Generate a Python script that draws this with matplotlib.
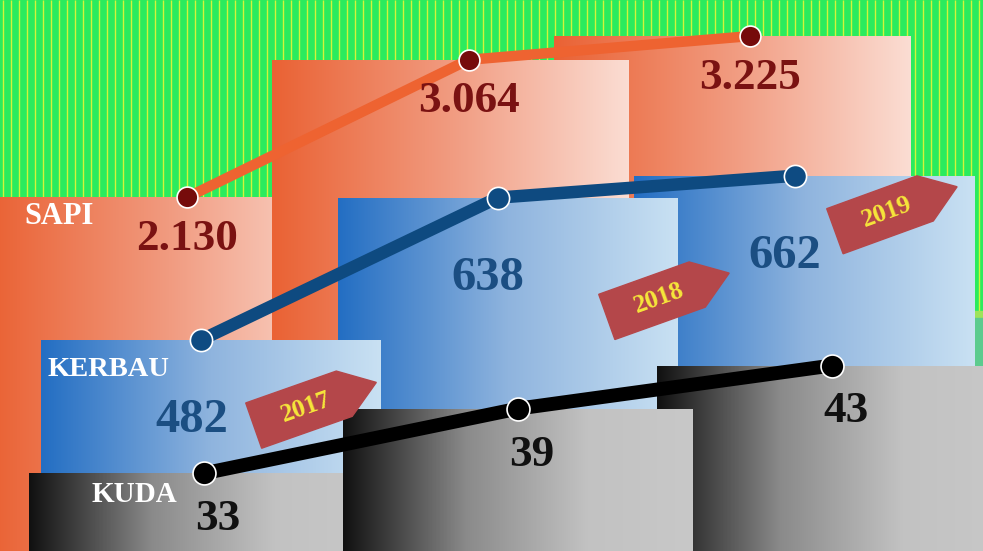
import numpy as np
import matplotlib
matplotlib.use('Agg')
import matplotlib.pyplot as plt
from matplotlib.colors import LinearSegmentedColormap
from matplotlib.patches import Polygon, Rectangle

plt.rcParams['font.family'] = ['Liberation Serif', 'DejaVu Serif']

# data
years = ['2017', '2018', '2019']
sapi = [2130, 3064, 3225]
kerbau = [482, 638, 662]
kuda = [33, 39, 43]
series_names = ['SAPI', 'KERBAU', 'KUDA']

W, H = 983, 551
fig = plt.figure(figsize=(W / 100, H / 100), dpi=100)

# striped green background
bg = fig.add_axes([0, 0, 1, 1])
bg.set_xlim(0, W)
bg.set_ylim(H, 0)
bg.axis('off')
bg.add_patch(Rectangle((0, 0), W, 320, color='#2BEB5E', zorder=0))
bg.vlines(np.arange(3, W, 8), 0, 314, color='#D2F43A', lw=1.0, zorder=1)
bg.add_patch(Rectangle((0, 311), W, 8, color='#9EE35A', zorder=2))
bg.add_patch(Rectangle((0, 318), W, H - 318, color='#5CCB8E', zorder=2))

grad = np.linspace(0, 1, 256).reshape(1, -1)


def fmt_sapi(v):
    return f'{v:,}'.replace(',', '.')


def draw_series(values, x0, dx, ylim, bar_w, bar_off, bar_z, cmap,
                line_c, line_w, mk_c, mk_s, txt_c, txt_size, txt_off, fmt=str):
    ax = fig.add_axes([0, 0, 1, 1])
    ax.axis('off')
    x = np.arange(len(values))
    vals = np.array(values, dtype=float)
    bars = ax.bar(x + bar_off / dx, vals - ylim[0], bottom=ylim[0], width=bar_w / dx,
                  color='none', edgecolor='none')
    for b, z in zip(bars, bar_z):
        bx, by = b.get_x(), b.get_y()
        im = ax.imshow(grad, cmap=cmap, aspect='auto', zorder=z,
                       extent=(bx, bx + b.get_width(), by, by + b.get_height()))
        im.set_clip_path(b)
    ax.plot(x, vals, color=line_c, lw=line_w, solid_capstyle='round', zorder=5)
    ax.plot(x, vals, 'o', ms=mk_s, color=mk_c, mec='white', mew=1.2, zorder=6)
    for xi, v in zip(x, values):
        ax.annotate(fmt(v), (xi, v), xytext=txt_off, textcoords='offset points',
                    ha='center', va='center', fontsize=txt_size, fontweight='bold',
                    color=txt_c, zorder=7)
    ax.set_xlim(-x0 / dx, (W - x0) / dx)
    ax.set_ylim(ylim)
    return ax


cm_sapi = LinearSegmentedColormap.from_list('sapi', ['#EA6234', '#F19B80', '#FBDDD3'])
cm_kerbau = LinearSegmentedColormap.from_list('kerbau', ['#236EC3', '#8FB4DE', '#C9E1F3'])
cm_kuda = LinearSegmentedColormap.from_list(
    'kuda', [(0, '#111111'), (0.35, '#8A8A8A'), (0.7, '#C2C2C2'), (1, '#C8C8C8')])

draw_series(sapi, 187, 281.5, (-270, 3470), 357, -18, [1, 2, 1], cm_sapi,
            '#EE6331', 7.5, '#760B0B', 15, '#7A1212', 32.5, (0, -30), fmt=fmt_sapi)
draw_series(kerbau, 201.5, 296.5, (250, 855), 340, 10, [3, 2, 1], cm_kerbau,
            '#0E4A80', 9, '#0E4B82', 16, '#1B4E82', 35, (-7, -58))
draw_series(kuda, 203.7, 314, (25.8, 76.9), 350, 0, [1, 2, 1], cm_kuda,
            '#000000', 10, '#000000', 16.5, '#111111', 32.5, (10, -33))

# series names
name_pos = [(59, 216, 22), (108, 370, 20.5), (134, 494, 21)]
for name, (px, py, fs) in zip(series_names, name_pos):
    fig.text(px / W, 1 - py / H, name, ha='center', va='center', color='white',
             fontsize=fs, fontweight='bold')

# year tags
ov = fig.add_axes([0, 0, 1, 1])
ov.set_xlim(0, W)
ov.set_ylim(H, 0)
ov.axis('off')
tag_shape = np.array([[-65, -24], [31, -24], [65, 0], [31, 24], [-65, 24]])
tag_pos = [(315, 404, 19.4), (668, 295, 19.7), (896, 209, 20.0)]
for yr, (cx, cy, ang) in zip(years, tag_pos):
    a = np.radians(ang)
    u = np.array([np.cos(a), -np.sin(a)])
    v = np.array([-np.sin(a), -np.cos(a)])
    pts = np.array([cx, cy]) + tag_shape[:, :1] * u + tag_shape[:, 1:] * v
    ov.add_patch(Polygon(pts, closed=True, color='#B4474A', zorder=1))
    tx, ty = np.array([cx, cy]) - 10 * u
    ov.text(tx, ty, yr, rotation=ang, rotation_mode='anchor', ha='center', va='center',
            fontsize=18.5, fontweight='bold', color='#F6E63A', zorder=2)

fig.savefig('out.png', dpi=100)
